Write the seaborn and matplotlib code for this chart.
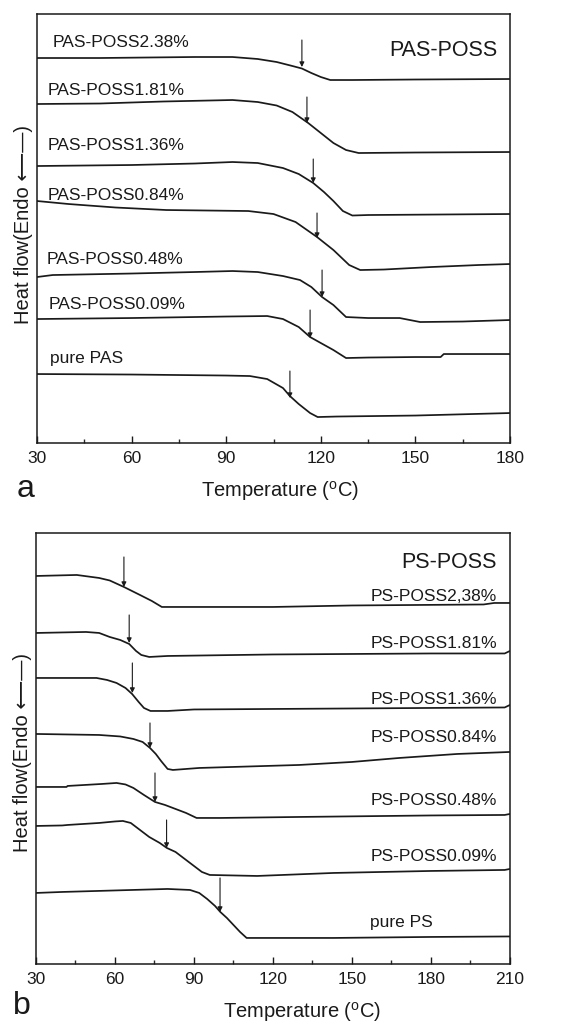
import numpy as np
import pandas as pd
import matplotlib
matplotlib.use("Agg")
import matplotlib.pyplot as plt
import seaborn as sns

# ---------------- panel a: PAS-POSS (heat flow in arbitrary units) ----------------
pas238_t = [30, 50, 80, 92, 100, 106, 111, 114, 117, 120, 123, 130, 150, 180]
pas238_hf = [385, 385, 386, 386, 384, 381, 377, 374.5, 370, 366, 363, 363, 363.5, 364]
pas181_t = [30, 50, 70, 92, 100, 106, 111, 116, 120, 124, 128, 132, 150, 180]
pas181_hf = [339, 339.5, 341.5, 343, 341, 337.5, 331, 320, 310, 300, 293, 290, 290.5, 291]
pas136_t = [30, 60, 80, 92, 100, 108, 113, 117.6, 121, 124, 127, 130, 135, 180]
pas136_hf = [277, 278, 279.5, 281, 280, 275, 269, 260, 251, 242, 232, 227.5, 228, 229]
pas084_t = [30, 40, 55, 71, 97, 105, 112, 118.8, 124, 129, 132.5, 140, 155, 170, 180]
pas084_hf = [242, 239, 235.5, 233, 232, 229, 221, 206, 193, 178, 173, 173.5, 176, 178, 179]
pas048_t = [30, 35, 60, 80, 92, 100, 108, 113.4, 117, 120.4, 124, 126, 128, 135, 145, 151.5, 165, 180]
pas048_hf = [166, 168, 169.5, 171, 172, 171, 167, 163, 156, 146, 138, 132, 126, 125, 125, 121, 121.5, 123]
pas009_t = [30, 60, 90, 103, 108, 113, 116.6, 120, 124, 128, 135, 150, 158, 159, 180]
pas009_hf = [124, 125, 126.5, 127, 124, 116, 106, 100, 93, 85, 85.5, 86, 86, 89, 89]
pas000_t = [30, 60, 90, 97.5, 103, 108, 110.2, 113, 116.6, 119, 125, 150, 180]
pas000_hf = [69, 68.5, 67.5, 67, 64, 55, 47, 39, 30, 26, 26.5, 27.5, 30]

pas_labels = ["PAS-POSS2.38%", "PAS-POSS1.81%", "PAS-POSS1.36%", "PAS-POSS0.84%",
              "PAS-POSS0.48%", "PAS-POSS0.09%", "pure PAS"]
pas_label_t = [34.8, 33.5, 33.5, 33.5, 33.2, 33.8, 34.2]
pas_label_hf = [401, 353, 298, 248, 184, 139, 85]
pas_tg = [114.0, 115.6, 117.6, 118.8, 120.4, 116.6, 110.2]
pas_tip = [376, 320, 260, 205, 146, 105, 45]
pas_tail = [403, 346, 284, 230, 173, 133, 72]

# ---------------- panel b: PS-POSS ----------------
ps238_t = [30, 45.5, 54, 58, 63.4, 69.5, 74, 77.8, 90, 120, 150, 200, 204, 210]
ps238_hf = [388, 389, 386, 383.5, 377, 369, 363, 357, 357, 357, 358.5, 359.5, 361, 361]
ps181_t = [30, 49, 54, 58, 62, 65.4, 68, 70, 73, 80, 120, 180, 208, 210]
ps181_hf = [331, 332, 331, 327, 324, 320, 313, 309, 307, 308, 309.5, 310.5, 310.5, 313]
ps136_t = [30, 53, 57, 60.6, 64, 66.5, 69, 71, 73.5, 80, 90, 150, 208, 210]
ps136_hf = [286, 286, 284, 281, 276, 270, 262, 256, 253, 253, 254.5, 255.5, 256.5, 259]
ps084_t = [30, 54, 62, 67, 70.5, 73.3, 75.5, 77.5, 80, 82, 92, 130, 150, 168, 190, 210]
ps084_hf = [230, 229, 227.5, 225, 222, 216, 210, 203, 195, 194, 196, 199, 202, 206, 210, 212]
ps048_t = [30, 41.6, 42, 55, 60.6, 64, 67, 71, 75.2, 79, 82, 87, 91, 100, 130, 180, 208, 210]
ps048_hf = [177, 177, 178, 180, 181, 179.5, 176, 169, 162, 159, 156, 151, 146, 146, 147, 148.5, 149, 150]
ps009_t = [30, 40, 42, 54, 60, 63, 66, 69.5, 73, 77, 79.7, 83, 86, 90, 93, 96, 114, 143, 180, 208, 210]
ps009_hf = [138, 138.5, 139, 141, 142.5, 143, 141, 134, 127, 121, 116, 112, 106, 98, 92, 89, 88, 91, 93, 94, 95]
ps000_t = [30, 40, 60, 80, 88.5, 92, 95, 98, 100, 102.5, 105, 107.5, 110, 143, 180, 210]
ps000_hf = [71, 72, 73.5, 75, 74, 71, 65, 58, 52, 46, 39, 32, 26, 26, 27, 27.5]

ps_labels = ["PS-POSS2,38%", "PS-POSS1.81%", "PS-POSS1.36%", "PS-POSS0.84%",
             "PS-POSS0.48%", "PS-POSS0.09%", "pure PS"]
ps_label_t = [205.1, 205.1, 205.1, 205.1, 205.1, 205.1, 156.9]
ps_label_hf = [367, 320, 264, 226, 163, 107, 41]
ps_tg = [63.4, 65.4, 66.6, 73.3, 75.2, 79.6, 99.9]
ps_tip = [377, 321, 271, 216, 162, 116, 52]
ps_tail = [407, 349, 301, 241, 191, 144, 86]

pas_curves = [(pas238_t, pas238_hf), (pas181_t, pas181_hf), (pas136_t, pas136_hf),
              (pas084_t, pas084_hf), (pas048_t, pas048_hf), (pas009_t, pas009_hf),
              (pas000_t, pas000_hf)]
ps_curves = [(ps238_t, ps238_hf), (ps181_t, ps181_hf), (ps136_t, ps136_hf),
             (ps084_t, ps084_hf), (ps048_t, ps048_hf), (ps009_t, ps009_hf),
             (ps000_t, ps000_hf)]

sns.set_theme(style="ticks")
plt.rcParams["font.family"] = ["Liberation Sans", "DejaVu Sans"]
plt.rcParams["mathtext.fontset"] = "custom"
plt.rcParams["mathtext.rm"] = "Liberation Sans"
plt.rcParams["mathtext.it"] = "Liberation Sans:italic"
ink = "#1a1a1a"


def to_frame(curves, labels):
    rows = []
    for (t, hf), name in zip(curves, labels):
        rows.append(pd.DataFrame({"T": t, "hf": hf, "sample": name}))
    return pd.concat(rows, ignore_index=True)


def draw_panel(ax, curves, labels, lab_t, lab_hf, lab_ha, tg, tip, tail,
               title, title_t, title_hf, xmax, ymax):
    df = to_frame(curves, labels)
    for name in labels:
        sns.lineplot(data=df[df["sample"] == name], x="T", y="hf", ax=ax,
                     color=ink, lw=1.25, sort=False, estimator=None)
    for t, a, b in zip(tg, tip, tail):
        ax.annotate("", xy=(t, a), xytext=(t, b),
                    arrowprops=dict(arrowstyle="-|>", color=ink, lw=0.8,
                                    mutation_scale=7, shrinkA=0, shrinkB=0))
    for name, t, h, ha in zip(labels, lab_t, lab_hf, lab_ha):
        ax.text(t, h, name, ha=ha, va="center", fontsize=12.5, color=ink)
    ax.text(title_t, title_hf, title, ha="right", va="center", fontsize=15.5, color=ink)
    ax.set_xlim(30, xmax)
    ax.set_ylim(0, ymax)
    ax.set_xticks(np.arange(30, xmax + 1, 30))
    ax.set_xticks(np.arange(45, xmax, 30), minor=True)
    ax.set_yticks([])
    ax.tick_params(axis="x", which="major", direction="in", length=5, width=1.0,
                   labelsize=12.5, pad=6, colors=ink)
    ax.tick_params(axis="x", which="minor", direction="in", length=3, width=1.0)
    for s in ax.spines.values():
        s.set_linewidth(1.1)
        s.set_color(ink)
    ax.set_xlabel("Temperature ($^{\\mathrm{o}}$C)", fontsize=14.5, color=ink)
    ax.set_ylabel("Heat flow(Endo \u27f5\u2014)", fontsize=14.5, color=ink)


fig = plt.figure(figsize=(5.83, 10.22), dpi=100)
ax_a = fig.add_axes([0.0635, 0.5665, 0.8113, 0.4198])
ax_b = fig.add_axes([0.0617, 0.0568, 0.8130, 0.4217])

draw_panel(ax_a, pas_curves, pas_labels, pas_label_t, pas_label_hf, ["left"] * 7,
           pas_tg, pas_tip, pas_tail, "PAS-POSS", 175.9, 393, 180, 429)
draw_panel(ax_b, ps_curves, ps_labels, ps_label_t, ps_label_hf, ["right"] * 6 + ["left"],
           ps_tg, ps_tip, ps_tail, "PS-POSS", 205.1, 401, 210, 431)

ax_a.xaxis.set_label_coords(0.514, -0.083)
ax_b.xaxis.set_label_coords(0.561, -0.083)
ax_a.xaxis.label.set_va("top")
ax_b.xaxis.label.set_va("top")
ax_a.yaxis.set_label_coords(-0.008, 0.51)
ax_b.yaxis.set_label_coords(-0.008, 0.49)

fig.text(17 / 583, 1 - 497 / 1022, "a", fontsize=23, color=ink, va="baseline")
fig.text(13 / 583, 0.008, "b", fontsize=23, color=ink, va="baseline")

fig.savefig("out.png", dpi=100)
